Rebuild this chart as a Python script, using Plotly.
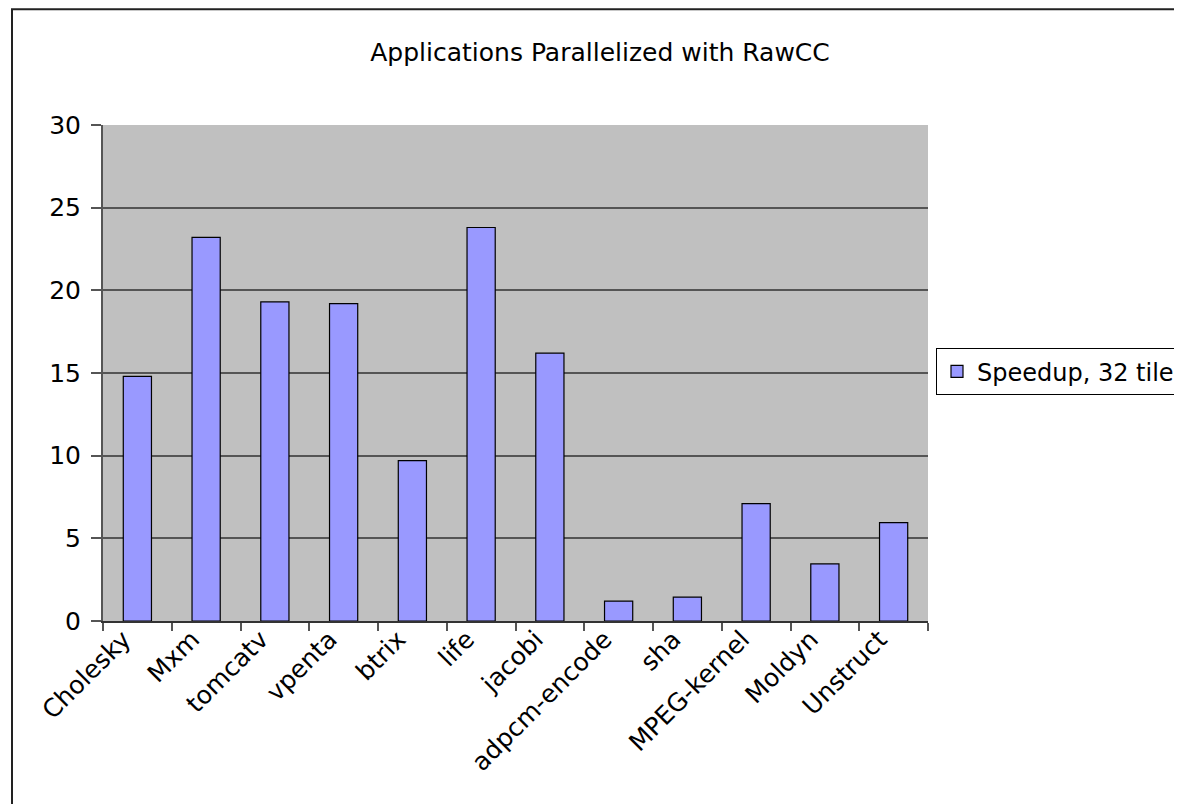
import plotly.graph_objects as go

categories = ["Cholesky", "Mxm", "tomcatv", "vpenta", "btrix", "life", "jacobi",
              "adpcm-encode", "sha", "MPEG-kernel", "Moldyn", "Unstruct"]
speedup = [14.8, 23.2, 19.3, 19.2, 9.7, 23.8, 16.2, 1.2, 1.45, 7.1, 3.45, 5.95]
y_ticks = [0, 5, 10, 15, 20, 25, 30]
series_name = "Speedup, 32 tiles"
title_text = "Applications Parallelized with RawCC"

FONT = "DejaVu Sans, Arial, sans-serif"
FS = 25
OFF = 8  # page body margin offset

W, H = 1182 - OFF, 812 - 2 * OFF
PL, PR = 103 - OFF, 928 - OFF
PT, PB = 124.7 - OFF, 620.7 - OFF
pw, ph = PR - PL, PB - PT

fig = go.Figure()
fig.add_trace(go.Bar(
    x=categories, y=speedup, name=series_name,
    marker=dict(color="#9999FF", line=dict(color="black", width=1.2)),
    showlegend=True,
))

fig.update_layout(
    width=W, height=H,
    margin=dict(l=PL, r=W - PR, t=PT, b=H - PB, autoexpand=False),
    paper_bgcolor="white", plot_bgcolor="#C0C0C0",
    bargap=0.59,
    font=dict(family=FONT, size=FS, color="black"),
    title=dict(text=title_text, x=(600 - OFF) / W, xanchor="center",
               y=1 - (52 - OFF) / H, yanchor="middle",
               font=dict(family=FONT, size=FS, color="black")),
    showlegend=True,
    legend=dict(x=(936 - 103) / pw, y=(PB - (371.4 - OFF)) / ph, xanchor="left", yanchor="middle",
                bgcolor="white", bordercolor="black", borderwidth=1,
                font=dict(family=FONT, size=24, color="black")),
)

fig.update_xaxes(
    type="category", tickangle=-45, tickson="boundaries",
    ticks="outside", ticklen=8, tickcolor="#555555", tickwidth=1.5,
    ticklabelstandoff=-8, ticklabelshift=-14,
    showline=True, linecolor="#333333", linewidth=1.5,
    showgrid=False, tickfont=dict(family=FONT, size=FS, color="black"),
)
fig.update_yaxes(
    range=[0, 30], tickvals=y_ticks, ticktext=[str(v) for v in y_ticks],
    ticks="outside", ticklen=10, tickcolor="#555555", tickwidth=1.5,
    ticklabelstandoff=5,
    showline=True, linecolor="#555555", linewidth=2,
    showgrid=True, gridcolor="#555555", gridwidth=1.5,
    zeroline=False, tickfont=dict(family=FONT, size=FS, color="black"),
)

# outer chart border
fig.add_shape(type="rect", xref="paper", yref="paper",
              x0=(12 - OFF - PL) / pw, x1=1.6, y0=-0.6, y1=(PB - (9 - OFF)) / ph,
              line=dict(color="#222222", width=2), fillcolor="rgba(0,0,0,0)", layer="above")

fig.write_html("out.html")
